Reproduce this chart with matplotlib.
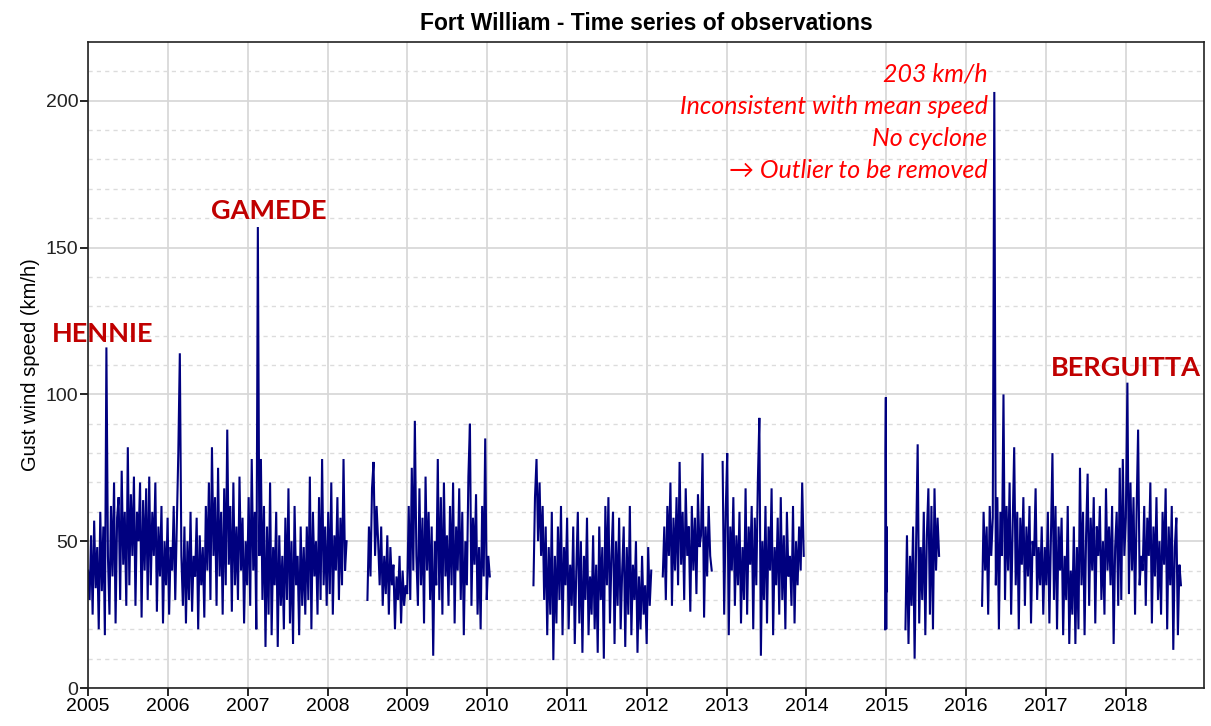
import numpy as np
import matplotlib
matplotlib.use("Agg")
import matplotlib.pyplot as plt

step_years = 7 / 365.25

seg_starts = [2005.0, 2008.5, 2010.58, 2012.20, 2012.95, 2014.985, 2015.24, 2016.20]

seg1 = [40, 30, 52, 25, 57, 34, 48, 20, 60, 33, 55, 18, 116,
        45, 25, 62, 38, 70, 22, 58, 65, 30, 74, 42, 60, 28,
        82, 35, 66, 45, 72, 28, 60, 50, 70, 24, 64, 40, 68,
        30, 72, 35, 60, 45, 70, 26, 55, 38, 62, 22, 50, 35,
        58, 25, 48, 40, 62, 30, 55, 80, 114, 45, 28, 55, 22,
        50, 30, 60, 26, 45, 38, 58, 20, 52, 35, 48, 24, 62,
        40, 70, 30, 82, 45, 65, 28, 75, 38, 60, 25, 68, 35,
        88, 42, 62, 26, 70, 35, 55, 30, 72, 40, 58, 22, 50,
        35, 65, 28, 78, 40, 60, 20, 157, 45, 78, 30, 62, 14,
        55, 25, 70, 18, 48, 35, 60, 14, 52, 28, 45, 20, 58,
        30, 68, 22, 50, 15, 62, 35, 45, 18, 55, 28, 48, 25,
        55, 30, 72, 20, 60, 38, 50, 25, 65, 30, 78, 35, 55,
        28, 60, 32, 70, 25, 52, 40, 65, 30, 58, 35, 78, 40, 50]

seg2 = [30, 55, 38, 68, 77, 45, 62, 50, 35, 55, 28, 45, 32,
        52, 25, 48, 35, 42, 20, 38, 30, 45, 22, 40, 28, 35,
        32, 62, 30, 75, 40, 91, 45, 28, 68, 35, 58, 22, 72,
        40, 60, 30, 55, 11, 50, 35, 78, 30, 65, 25, 70, 38,
        52, 28, 62, 35, 70, 22, 55, 40, 68, 30, 60, 18, 50,
        35, 72, 90, 28, 58, 42, 66, 25, 48, 20, 62, 38, 85,
        30, 45, 38]

seg3 = [35, 65, 78, 50, 70, 45, 62, 30, 55, 18, 48, 25, 60,
        9.5, 45, 22, 55, 30, 62, 18, 48, 35, 58, 20, 42, 28,
        55, 15, 40, 60, 22, 50, 12, 45, 30, 58, 18, 38, 25,
        52, 20, 42, 12, 55, 30, 48, 10, 62, 35, 65, 22, 45,
        60, 15, 50, 28, 58, 20, 40, 55, 14, 48, 25, 62, 18,
        42, 30, 50, 12, 38, 20, 45, 25, 35, 15, 48, 28, 40]

seg4 = [38, 55, 30, 62, 45, 70, 28, 58, 40, 65, 35, 77, 42,
        60, 30, 68, 45, 55, 26, 62, 40, 58, 32, 66, 48, 52,
        80, 24, 55, 38, 62, 45, 40]

seg5 = [77, 25, 60, 80, 18, 55, 40, 65, 28, 52, 35, 60, 22,
        48, 30, 68, 25, 55, 42, 62, 20, 58, 35, 70, 92, 11,
        50, 30, 62, 22, 55, 40, 68, 18, 48, 35, 58, 25, 65,
        30, 52, 20, 60, 38, 45, 28, 62, 22, 50, 35, 55, 40, 70, 45]

seg6 = [20, 81, 99, 20, 55, 33]

seg7 = [20, 52, 15, 45, 28, 55, 10, 50, 83, 22, 48, 30, 60,
        18, 52, 68, 25, 62, 20, 68, 40, 58, 45]

seg8 = [28, 60, 40, 55, 25, 62, 45, 58, 203, 35, 65, 20, 60,
        45, 100, 30, 62, 40, 70, 25, 55, 82, 35, 60, 20, 58,
        42, 65, 28, 55, 38, 62, 22, 50, 45, 68, 30, 48, 35,
        55, 25, 48, 35, 60, 22, 52, 80, 30, 62, 20, 55, 40,
        58, 18, 45, 30, 62, 15, 40, 25, 55, 15, 48, 20, 75,
        35, 60, 18, 52, 73, 28, 58, 40, 65, 22, 55, 45, 62,
        30, 50, 25, 68, 40, 55, 35, 62, 15, 48, 60, 28, 75,
        30, 78, 45, 58, 104, 32, 70, 40, 65, 25, 60, 88, 35,
        45, 40, 62, 28, 58, 45, 70, 22, 55, 38, 65, 30, 50,
        25, 60, 42, 68, 20, 55, 35, 62, 13, 48, 58, 18, 42, 35]

segments = [seg1, seg2, seg3, seg4, seg5, seg6, seg7, seg8]
seg_step_scale = [1, 1, 1, 1, 1, 0.25, 1, 1]

year_ticks = list(range(2005, 2019))
y_ticks = [0, 50, 100, 150, 200]

cyclones = ["HENNIE", "GAMEDE", "BERGUITTA"]
cyclone_pos = [(2005.18, 120.5), (2007.27, 162.5), (2018.0, 109)]

note_lines = ["203 km/h", "Inconsistent with mean speed", "No cyclone",
              "\u2192 Outlier to be removed"]
note_y = [209.0, 198.2, 187.0, 176.3]
note_x = 2016.27

# ---- figure ----
fig = plt.figure(figsize=(12.11, 7.26), dpi=100)
ax = fig.add_axes([0.0727, 0.0523, 0.9215, 0.8898])

navy = "#00007f"
for start, vals, sc in zip(seg_starts, segments, seg_step_scale):
    x = start + np.arange(len(vals)) * step_years * sc
    ax.plot(x, vals, color=navy, lw=1.5, solid_joinstyle="miter")

ax.set_xlim(2005, 2018.98)
ax.set_ylim(0, 220)
ax.set_xticks(year_ticks)
ax.set_xticklabels([str(y) for y in year_ticks])
ax.set_yticks(y_ticks)
ax.set_yticks(np.arange(10, 220, 10), minor=True)

ax.grid(which="major", axis="both", color="#d6d6d6", lw=1.2, ls="-")
ax.grid(which="minor", axis="y", color="#dcdcdc", lw=1.0, ls=(0, (3, 3)))
ax.set_axisbelow(True)

ax.tick_params(axis="both", which="major", direction="out", length=6,
               width=1.2, labelsize=14, colors="black", pad=1)
ax.tick_params(axis="y", which="major", labelcolor="#222222")
ax.tick_params(axis="both", which="minor", length=0)
for lbl in ax.get_xticklabels() + ax.get_yticklabels():
    lbl.set_family("Liberation Sans")
for sp in ax.spines.values():
    sp.set_color("#222222")
    sp.set_linewidth(1.2)

ax.set_ylabel("Gust wind speed (km/h)", fontsize=14.5, family="Liberation Sans",
              labelpad=4)
ax.set_title("Fort William - Time series of observations", fontsize=16.5,
             family="Liberation Sans", fontweight="bold", pad=9)

for name, (cx, cy) in zip(cyclones, cyclone_pos):
    ax.text(cx, cy, name, color="#c00000", fontsize=19.5, fontweight="bold",
            family=["Lato", "DejaVu Sans"], ha="center", va="center")

for line, yy in zip(note_lines, note_y):
    ax.text(note_x, yy, line, color="#ff0000", fontsize=18, style="italic",
            family=["Lato", "DejaVu Sans"], ha="right", va="center")

fig.savefig("out.png", dpi=100)
